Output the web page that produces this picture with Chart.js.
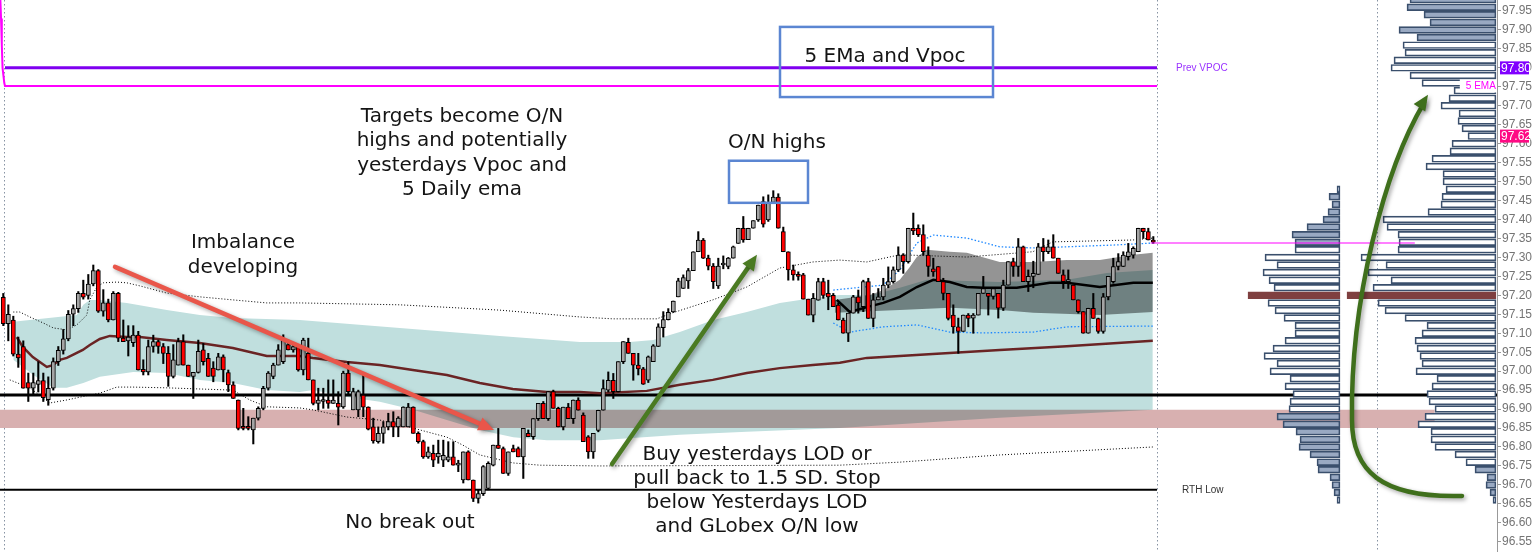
<!DOCTYPE html>
<html><head><meta charset="utf-8">
<script src="https://cdn.jsdelivr.net/npm/chart.js@4.4.1/dist/chart.umd.min.js"></script>
<style>html,body{margin:0;padding:0;background:#fff;overflow:hidden}#wrap{width:1532px;height:552px}</style>
</head><body><div id="wrap"><canvas id="c" width="1532" height="552"></canvas></div>
<script>
// ---------- DATA ----------
const OPEN = [97.195,97.125,97.135,97.045,97.065,96.97,96.955,96.965,96.975,96.925,
96.955,97.025,97.055,97.085,97.15,97.165,97.205,97.2,97.23,97.265,
97.158,97.18,97.135,97.205,97.087,97.08,97.075,97.095,97.005,96.998,
97.065,97.078,97.065,97.047,96.986,97.016,97.078,97.016,96.986,96.997,
97.056,97.034,97.008,97.003,97.038,96.996,96.964,96.924,96.853,96.853,
96.845,96.876,96.902,96.955,96.986,97.016,97.025,97.07,97.056,97.065,
97.003,97.047,96.977,96.915,96.92,96.924,96.915,96.915,96.906,96.995,
96.898,96.898,96.937,96.905,96.853,96.814,96.836,96.853,96.867,96.853,
96.853,96.853,96.905,96.836,96.814,96.774,96.783,96.774,96.765,96.765,
96.774,96.752,96.713,96.787,96.713,96.664,96.677,96.691,96.752,96.805,
96.796,96.73,96.796,96.796,96.774,96.836,96.827,96.875,96.915,96.875,
96.946,96.902,96.853,96.905,96.875,96.924,96.884,96.827,96.787,96.844,
96.897,96.95,96.976,96.946,97.025,97.076,97.047,97.016,97.006,96.976,
97.025,97.065,97.115,97.136,97.156,97.196,97.218,97.238,97.265,97.315,
97.346,97.298,97.277,97.225,97.28,97.276,97.298,97.337,97.377,97.347,
97.377,97.399,97.447,97.399,97.445,97.459,97.368,97.315,97.267,97.254,
97.254,97.19,97.148,97.187,97.236,97.205,97.2,97.174,97.135,97.1,
97.153,97.196,97.17,97.236,97.139,97.188,97.196,97.227,97.236,97.267,
97.306,97.289,97.377,97.377,97.36,97.306,97.27,97.276,97.236,97.205,
97.148,97.117,97.105,97.148,97.14,97.148,97.205,97.205,97.197,97.205,
97.166,97.227,97.289,97.276,97.328,97.236,97.25,97.255,97.328,97.315,
97.328,97.298,97.254,97.236,97.227,97.188,97.157,97.1,97.166,97.139,
97.105,97.196,97.236,97.276,97.276,97.302,97.306,97.315,97.377,97.368,
97.346];
const HIGH = [97.205,97.175,97.145,97.09,97.08,96.995,96.995,97.025,96.995,96.985,
97.035,97.065,97.11,97.16,97.175,97.21,97.24,97.255,97.28,97.268,
97.215,97.19,97.21,97.208,97.135,97.12,97.12,97.105,97.03,97.082,
97.095,97.082,97.073,97.065,97.07,97.087,97.096,97.016,96.997,97.082,
97.073,97.047,97.025,97.047,97.043,97.003,96.972,96.924,96.902,96.88,
96.876,96.906,96.96,96.999,97.021,97.07,97.096,97.082,97.07,97.07,
97.087,97.087,96.977,96.955,96.955,96.977,96.977,96.946,97.0,97.025,
96.955,96.95,96.99,96.906,96.876,96.853,96.867,96.889,96.893,96.88,
96.906,96.915,96.906,96.84,96.818,96.8,96.805,96.818,96.818,96.814,
96.814,96.765,96.787,96.79,96.713,96.687,96.751,96.761,96.805,96.849,
96.8,96.787,96.805,96.8,96.849,96.845,96.875,96.915,96.92,96.946,
96.95,96.905,96.905,96.915,96.924,96.93,96.89,96.83,96.836,96.897,
96.977,96.998,96.994,97.025,97.078,97.087,97.047,97.047,97.01,97.04,
97.07,97.125,97.157,97.165,97.185,97.245,97.254,97.271,97.315,97.368,
97.35,97.306,97.284,97.298,97.304,97.3,97.33,97.377,97.408,97.377,
97.397,97.438,97.46,97.465,97.476,97.468,97.38,97.315,97.28,97.262,
97.258,97.19,97.205,97.245,97.245,97.24,97.205,97.18,97.14,97.153,
97.2,97.214,97.24,97.245,97.205,97.218,97.245,97.275,97.275,97.328,
97.31,97.377,97.417,97.386,97.386,97.328,97.298,97.276,97.245,97.205,
97.175,97.14,97.148,97.152,97.152,97.205,97.25,97.205,97.22,97.205,
97.24,97.289,97.298,97.35,97.33,97.267,97.29,97.337,97.35,97.346,
97.36,97.298,97.267,97.267,97.227,97.188,97.157,97.166,97.205,97.14,
97.205,97.25,97.298,97.31,97.315,97.337,97.328,97.377,97.377,97.377,
97.355];
const LOW = [97.12,97.08,97.04,97.01,96.955,96.92,96.94,96.945,96.92,96.91,
96.95,97.015,97.045,97.08,97.12,97.155,97.19,97.19,97.225,97.155,
97.145,97.13,97.135,97.078,97.078,97.04,97.065,97.003,96.99,96.99,
97.05,97.047,97.02,96.96,96.982,97.016,97.016,96.986,96.928,96.995,
97.016,96.986,96.972,97.003,96.972,96.946,96.928,96.845,96.845,96.845,
96.808,96.871,96.898,96.95,96.98,97.016,97.02,97.056,97.05,97.0,
96.99,96.977,96.911,96.898,96.902,96.902,96.915,96.858,96.902,96.937,
96.898,96.88,96.88,96.845,96.81,96.81,96.81,96.845,96.827,96.827,
96.853,96.853,96.836,96.81,96.77,96.77,96.748,96.757,96.748,96.761,
96.752,96.735,96.705,96.713,96.656,96.652,96.672,96.687,96.75,96.796,
96.73,96.725,96.787,96.774,96.717,96.827,96.82,96.87,96.875,96.87,
96.902,96.853,96.845,96.875,96.862,96.897,96.814,96.77,96.77,96.84,
96.897,96.945,96.928,96.945,97.02,97.047,96.976,96.99,96.965,96.97,
97.025,97.065,97.09,97.135,97.155,97.196,97.218,97.218,97.265,97.315,
97.297,97.267,97.218,97.218,97.27,97.27,97.298,97.337,97.34,97.347,
97.377,97.395,97.38,97.395,97.443,97.377,97.315,97.24,97.24,97.24,
97.19,97.148,97.13,97.187,97.192,97.162,97.17,97.135,97.1,97.078,
97.153,97.153,97.157,97.139,97.117,97.188,97.188,97.22,97.232,97.263,
97.258,97.285,97.36,97.355,97.306,97.25,97.25,97.236,97.188,97.135,
97.1,97.047,97.105,97.117,97.1,97.148,97.205,97.148,97.19,97.14,
97.16,97.227,97.25,97.25,97.236,97.21,97.22,97.255,97.29,97.31,
97.298,97.258,97.218,97.218,97.188,97.153,97.1,97.1,97.139,97.1,
97.1,97.188,97.232,97.267,97.276,97.293,97.298,97.315,97.35,97.346,
97.337];
const CLOSE = [97.125,97.15,97.045,97.035,96.955,96.955,96.97,96.975,96.93,96.955,
97.025,97.055,97.085,97.15,97.165,97.205,97.195,97.23,97.265,97.158,
97.18,97.135,97.205,97.087,97.078,97.09,97.095,97.003,96.998,97.065,
97.078,97.065,97.047,96.986,97.03,97.078,97.016,96.986,96.997,97.052,
97.025,96.986,96.986,97.038,97.003,96.964,96.928,96.849,96.849,96.849,
96.876,96.902,96.955,96.995,97.016,97.056,97.082,97.056,97.065,97.003,
97.082,96.977,96.915,96.924,96.924,96.915,96.924,96.905,96.995,96.946,
96.946,96.946,96.905,96.847,96.816,96.836,96.853,96.867,96.853,96.876,
96.905,96.905,96.836,96.814,96.774,96.787,96.765,96.783,96.778,96.774,
96.752,96.757,96.787,96.713,96.664,96.677,96.748,96.757,96.805,96.796,
96.73,96.787,96.787,96.774,96.849,96.827,96.875,96.915,96.875,96.946,
96.902,96.853,96.905,96.875,96.924,96.897,96.814,96.787,96.836,96.897,
96.954,96.976,96.946,97.025,97.078,97.047,97.016,97.006,96.966,97.038,
97.067,97.117,97.136,97.155,97.185,97.238,97.247,97.265,97.315,97.346,
97.298,97.277,97.236,97.277,97.28,97.298,97.328,97.377,97.346,97.377,
97.397,97.438,97.388,97.445,97.459,97.377,97.315,97.267,97.254,97.25,
97.19,97.148,97.192,97.236,97.2,97.196,97.17,97.135,97.1,97.153,
97.196,97.18,97.236,97.139,97.188,97.196,97.227,97.236,97.267,97.306,
97.289,97.377,97.37,97.36,97.315,97.276,97.262,97.236,97.205,97.139,
97.117,97.105,97.148,97.139,97.148,97.205,97.218,97.197,97.218,97.166,
97.227,97.289,97.276,97.328,97.236,97.25,97.258,97.328,97.315,97.328,
97.298,97.258,97.236,97.236,97.188,97.157,97.1,97.166,97.139,97.105,
97.196,97.25,97.276,97.289,97.306,97.315,97.324,97.377,97.368,97.346,
97.34];

// indicator lines: [bar index, price]
const SLOW_MA = [[2.7,97.090],[3.9,97.064],[5.9,97.037],[7.3,97.024],[8.7,97.011],[9.9,97.016],[11.3,97.030],[12.7,97.035],[13.9,97.043],[15.9,97.056],[17.3,97.069],[19.3,97.085],[21.3,97.093],[24.7,97.090],[27.3,97.090],[32.7,97.082],[39.3,97.074],[45.9,97.061],[52.7,97.040],[59.3,97.040],[61.9,97.035],[68.7,97.024],[75.3,97.016],[81.9,97.003],[88.7,96.990],[95.3,96.969],[101.9,96.953],[108.7,96.945],[115.3,96.945],[119.3,96.942],[128.7,96.948],[135.3,96.964],[141.9,96.977],[148.7,96.995],[155.3,97.008],[161.9,97.016],[167.3,97.022],[172.7,97.035],[185.9,97.045],[199.3,97.056],[212.7,97.066],[229.9,97.080]];
const ENV_UP = [[2,97.156],[3.3,97.156],[5.3,97.143],[8,97.127],[10,97.114],[12.7,97.109],[14.7,97.122],[16.7,97.148],[17.3,97.188],[18.7,97.222],[20,97.233],[22.7,97.235],[24.7,97.233],[27.3,97.225],[32.7,97.206],[39.3,97.196],[45.9,97.188],[52.7,97.180],[59.3,97.180],[79.3,97.175],[99.3,97.161],[115.3,97.143],[121.9,97.138],[130.7,97.138],[133.9,97.154],[141.9,97.188],[148.7,97.222],[155.3,97.272],[161.9,97.288],[167.3,97.293],[172.7,97.288],[179.3,97.307],[192.7,97.301],[205.9,97.315],[209.9,97.341],[225.9,97.346],[229.9,97.351]];
const ENV_DN = [[1.3,96.977],[5.3,96.956],[9.3,96.916],[12.7,96.924],[17.3,96.937],[19.3,96.942],[22.7,96.958],[25.9,96.958],[32.7,96.956],[45.9,96.950],[49.3,96.924],[52.7,96.906],[59.3,96.903],[61.9,96.898],[68.7,96.879],[75.3,96.871],[81.9,96.850],[88.7,96.826],[91.9,96.805],[95.3,96.779],[101.9,96.758],[107.3,96.752],[119.3,96.750],[167.3,96.752],[179.3,96.760],[199.3,96.779],[229.9,96.800]];
const SD_UP = [[166,97.214],[176,97.227],[179.3,97.267],[182.7,97.338],[186,97.359],[192.7,97.351],[199.3,97.328],[206,97.325],[212.7,97.328],[222.7,97.333],[229.9,97.338]];
const SD_DN = [[166,97.127],[169.3,97.103],[176,97.117],[182.7,97.122],[189.3,97.103],[196,97.101],[206,97.103],[212.7,97.117],[229.9,97.119]];
const VWAP = [[166.7,97.188],[169.3,97.156],[172.7,97.169],[176,97.180],[179.3,97.196],[182.7,97.222],[186,97.241],[189.3,97.235],[192.7,97.222],[196,97.220],[202.7,97.220],[209.3,97.233],[212.7,97.233],[219.3,97.222],[226,97.233],[229.9,97.233]];
const BAND_TOP = [[2,97.130],[14.7,97.148],[16,97.175],[17.3,97.188],[19.3,97.188],[24.7,97.180],[32.7,97.161],[39.3,97.148],[45.9,97.140],[59.3,97.135],[79.3,97.114],[99.3,97.093],[115.3,97.077],[125.3,97.077],[130,97.082],[135.3,97.103],[142,97.135],[148.7,97.156],[155.3,97.180],[162,97.193],[167.3,97.201],[173.7,97.201],[179.3,97.220],[184.7,97.241],[199.3,97.235],[212.7,97.241],[220.7,97.259],[229.9,97.267]];
const BAND_BOT = [[2,97.030],[6,96.990],[10,96.956],[12.7,96.956],[16,96.969],[19.3,96.985],[26,96.998],[32.7,96.995],[39.3,96.977],[45.9,96.969],[52.7,96.950],[59.3,96.945],[62,96.950],[68.7,96.932],[75.3,96.919],[82,96.898],[88.7,96.871],[95.3,96.845],[102,96.826],[108.7,96.818],[119.3,96.818],[135.3,96.832],[148.7,96.840],[167.3,96.850],[199.3,96.877],[229.9,96.898]];
const VA_TOP = [[166.3,97.188],[173.3,97.201],[176,97.214],[179.3,97.241],[181.3,97.275],[182.7,97.301],[184.7,97.320],[189.3,97.315],[192.7,97.312],[199.3,97.288],[206,97.288],[212.7,97.293],[219.3,97.293],[226,97.307],[229.9,97.312]];
const VA_BOT = [[166.3,97.154],[179.3,97.161],[189.3,97.167],[199.3,97.161],[206,97.154],[219.3,97.148],[229.9,97.156]];
const EMA5 = [[-0.6,97.985],[-0.45,97.93],[-0.3,97.86],[-0.15,97.80],[0.2,97.76],[0.34,97.752],[230.74,97.752]];

// levels
const PREV_VPOC = 97.80, YEST_LOD = 96.937, RTH_LOW = 96.687, LAST_PRICE = 97.338;
const ZONE = [96.850, 96.898];

// volume profiles
const P1_PRICE = [97.48,97.46,97.44,97.42,97.40,97.38,97.36,97.34,97.32,97.30,97.28,97.26,97.24,97.22,97.20,97.18,97.16,97.14,97.12,97.10,97.08,97.06,97.04,97.02,97.00,96.98,96.96,96.94,96.92,96.90,96.88,96.86,96.84,96.82,96.80,96.78,96.76,96.74,96.72,96.70,96.68,96.66];
const P1_VOL = [3,11,8,12,17,33,48,45,45,75,63,77,71,66,92,72,65,56,45,45,55,67,76,63,70,50,55,47,50,51,63,57,44,40,41,30,23,22,10,8,6,3];
const P2_PRICE = [97.98,97.96,97.94,97.92,97.90,97.88,97.86,97.84,97.82,97.80,97.78,97.76,97.74,97.72,97.70,97.68,97.66,97.64,97.62,97.60,97.58,97.56,97.54,97.52,97.50,97.48,97.46,97.44,97.42,97.40,97.38,97.36,97.34,97.32,97.30,97.28,97.26,97.24,97.22,97.20,97.18,97.16,97.14,97.12,97.10,97.08,97.06,97.04,97.02,97.00,96.98,96.96,96.94,96.92,96.90,96.88,96.86,96.84,96.82,96.80,96.78,96.76,96.74,96.72,96.70,96.68,96.66];
const P2_VOL = [86,89,72,66,97,79,93,91,102,105,86,74,42,47,55,37,38,34,28,44,46,64,70,53,53,50,54,55,68,113,109,98,97,98,135,110,128,105,123,149,118,111,91,69,74,81,79,76,74,80,59,64,69,67,61,71,78,65,65,61,41,30,21,9,10,6,3];
const P1_VA = [96.89, 97.33], P2_VA = [96.75, 97.87];
const P1_POC = 97.20, P2_POC = 97.20;

const TICKS = [96.55,96.60,96.65,96.70,96.75,96.80,96.85,96.90,96.95,97.00,97.05,97.10,97.15,97.20,97.25,97.30,97.35,97.40,97.45,97.50,97.55,97.60,97.65,97.70,97.75,97.80,97.85,97.90,97.95];

// ---------- LAYOUT (bar-index units on the x scale) ----------
const X_MIN = -0.66, X_MAX = 298.74, MAIN_END = 230.74, P1_END = 274.74, ZONE_END = 286.3;
const SEPARATORS = [0.2, MAIN_END, P1_END];

const pts = a => a.map(p => ({x: p[0], y: p[1]}));
const line = (data, color, width, order, extra) => Object.assign({type: 'line', data, borderColor: color, borderWidth: width, pointRadius: 0, pointHitRadius: 0, tension: 0, fill: false, order}, extra || {});
const hline = (price, x0, x1, color, width, order, extra) => line([{x: x0, y: price}, {x: x1, y: price}], color, width, order, extra);
const NONE = 'rgba(0,0,0,0)';

const idx = OPEN.map((_, i) => i);
const profileStyle = (POC, VA) => ({
  backgroundColor: c => c.raw.y === POC ? '#7f4040' : (c.raw.y > VA[1] || c.raw.y < VA[0]) ? '#99a9c2' : '#fff',
  borderColor: c => c.raw.y === POC ? '#7f4040' : '#3a4f6c',
  borderWidth: 1.7, borderSkipped: false, barThickness: 6.8, grouped: false, order: 40
});
const datasets = [
  hline(ZONE[1], X_MIN, ZONE_END, NONE, 0, 100, {fill: '+1', backgroundColor: '#d8b0b0'}),
  hline(ZONE[0], X_MIN, ZONE_END, NONE, 0, 99),
  line(pts(BAND_TOP), NONE, 0, 98, {fill: '+1', backgroundColor: '#c0dfde', blend: 'multiply'}),
  line(pts(BAND_BOT), NONE, 0, 97),
  line(pts(VA_TOP), NONE, 0, 96, {fill: '+1', backgroundColor: '#949494', blend: 'multiply'}),
  line(pts(VA_BOT), NONE, 0, 95),
  hline(YEST_LOD, X_MIN, X_MAX, '#000', 3, 90),
  hline(RTH_LOW, X_MIN, MAIN_END, '#000', 2, 90),
  hline(PREV_VPOC, 0.34, MAIN_END, '#7f00f0', 3, 90),
  line(pts(EMA5), '#ff00ff', 2, 90),
  line(pts(SLOW_MA), '#6a2424', 2.5, 80),
  line(pts(ENV_UP), '#000', 1, 80, {borderDash: [1, 2]}),
  line(pts(ENV_DN), '#000', 1, 80, {borderDash: [1, 2]}),
  line(pts(SD_UP), '#1e88ff', 1.3, 80, {borderDash: [1.5, 2]}),
  line(pts(SD_DN), '#1e88ff', 1.3, 80, {borderDash: [1.5, 2]}),
  line(pts(VWAP), '#000', 2.5, 80),
  {type: 'bar', data: idx.map(i => ({x: i, y: [LOW[i], HIGH[i]]})), backgroundColor: '#000', borderWidth: 0, barThickness: 1.4, grouped: false, order: 60},
  {type: 'bar', data: idx.map(i => ({x: i, y: [OPEN[i], CLOSE[i]]})),
    backgroundColor: c => (c.raw && c.raw.y[1] < c.raw.y[0]) ? '#ff0000' : '#a4a4a4',
    borderColor: '#000', borderWidth: 1, borderSkipped: false, barThickness: 4.2, minBarLength: 2, grouped: false, order: 50},
  Object.assign({type: 'bar', indexAxis: 'y', xAxisID: 'xp1', yAxisID: 'y', data: P1_PRICE.map((p, i) => ({y: p, x: P1_VOL[i]}))}, profileStyle(P1_POC, P1_VA)),
  Object.assign({type: 'bar', indexAxis: 'y', xAxisID: 'xp2', yAxisID: 'y', data: P2_PRICE.map((p, i) => ({y: p, x: P2_VOL[i]}))}, profileStyle(P2_POC, P2_VA)),
  hline(LAST_PRICE, 229.5, 282.3, '#ff00ff', 1.2, 30)
];

// ---------- ANNOTATIONS (anchored in bar index / price) ----------
const NOTES = [
  {x: 176.34, y: 97.829, step: 0, lines: ['5 EMa and Vpoc']},
  {x: 91.74, y: 97.671, step: 24.4, lines: ['Targets become O/N', 'highs and potentially', 'yesterdays Vpoc and', '5 Daily ema']},
  {x: 154.74, y: 97.602, step: 0, lines: ['O/N highs']},
  {x: 47.94, y: 97.338, step: 25, lines: ['Imbalance', 'developing']},
  {x: 150.74, y: 96.779, step: 24, lines: ['Buy yesterdays LOD or', 'pull back to 1.5 SD. Stop', 'below Yesterdays LOD', 'and GLobex O/N low']},
  {x: 81.34, y: 96.600, step: 0, lines: ['No break out']}
];
const BOXES = [[155.34, 97.908, 197.94, 97.723], [145.14, 97.555, 160.94, 97.444]];
const ARROWS = [
  {from: [22.34, 97.275], to: [98.14, 96.845], color: '#e9564a'},
  {from: [121.74, 96.755], to: [150.74, 97.307], color: '#4a7a22'}
];
const CURVE = [[291.74, 96.671], [275.34, 96.665], [269.74, 96.739], [269.74, 96.871], [269.34, 97.188], [276.34, 97.557], [284.94, 97.729]];

function setBlend(chart, meta) {
  const ds = meta ? chart.data.datasets[meta.index] : null;
  chart.ctx.globalCompositeOperation = (ds && ds.blend) || 'source-over';
}
function arrowHead(ctx, x1, y1, ang, size) {
  ctx.beginPath();
  ctx.moveTo(x1, y1);
  ctx.lineTo(x1 - size * Math.cos(ang - 0.42), y1 - size * Math.sin(ang - 0.42));
  ctx.lineTo(x1 - size * Math.cos(ang + 0.42), y1 - size * Math.sin(ang + 0.42));
  ctx.closePath(); ctx.fill();
}
const overlay = {
  id: 'overlay',
  beforeDatasetsDraw(chart) {
    const {ctx, chartArea: a, scales: {x}} = chart;
    ctx.save();
    ctx.strokeStyle = '#8793a3'; ctx.lineWidth = 1; ctx.setLineDash([1.5, 2.5]);
    SEPARATORS.forEach(v => { const px = Math.round(x.getPixelForValue(v)) + 0.5; ctx.beginPath(); ctx.moveTo(px, a.top); ctx.lineTo(px, a.bottom); ctx.stroke(); });
    ctx.restore();
    chart.$seq = chart.getSortedVisibleDatasetMetas().slice().reverse();
    setBlend(chart, chart.$seq[0]);
  },
  afterDatasetDraw(chart, args) {
    const seq = chart.$seq || [];
    setBlend(chart, seq[seq.indexOf(args.meta) + 1]);
  },
  afterDatasetsDraw(chart) { chart.ctx.globalCompositeOperation = 'source-over'; },
  afterDraw(chart) {
    const {ctx, scales: {x, y}, chartArea: a} = chart;
    const X = v => x.getPixelForValue(v), Y = v => y.getPixelForValue(v);
    ctx.save();
    ctx.strokeStyle = '#5b86d2'; ctx.lineWidth = 2.5;
    BOXES.forEach(b => ctx.strokeRect(X(b[0]), Y(b[1]), X(b[2]) - X(b[0]), Y(b[3]) - Y(b[1])));
    ctx.shadowColor = 'rgba(0,0,0,0.35)'; ctx.shadowBlur = 4; ctx.shadowOffsetX = 2; ctx.shadowOffsetY = 2;
    ctx.lineCap = 'round';
    ARROWS.forEach(ar => {
      const x0 = X(ar.from[0]), y0 = Y(ar.from[1]), x1 = X(ar.to[0]), y1 = Y(ar.to[1]);
      const ang = Math.atan2(y1 - y0, x1 - x0);
      ctx.strokeStyle = ar.color; ctx.fillStyle = ar.color; ctx.lineWidth = 4.5;
      ctx.beginPath(); ctx.moveTo(x0, y0); ctx.lineTo(x1 - 12 * Math.cos(ang), y1 - 12 * Math.sin(ang)); ctx.stroke();
      arrowHead(ctx, x1, y1, ang, 17);
    });
    const c = CURVE.map(p => [X(p[0]), Y(p[1])]);
    ctx.strokeStyle = '#3f6f1c'; ctx.fillStyle = '#3f6f1c'; ctx.lineWidth = 4.5;
    ctx.beginPath(); ctx.moveTo(c[0][0], c[0][1]);
    ctx.bezierCurveTo(c[1][0], c[1][1], c[2][0], c[2][1], c[3][0], c[3][1]);
    ctx.bezierCurveTo(c[4][0], c[4][1], c[5][0], c[5][1] + 8, c[6][0] - 4, c[6][1] + 8);
    ctx.stroke();
    arrowHead(ctx, c[6][0], c[6][1], Math.atan2(c[6][1] - c[5][1], c[6][0] - c[5][0]), 17);
    ctx.shadowColor = 'rgba(0,0,0,0)'; ctx.shadowBlur = 0; ctx.shadowOffsetX = 0; ctx.shadowOffsetY = 0;
    ctx.fillStyle = '#141414'; ctx.font = '20px "DejaVu Sans", Verdana, sans-serif';
    ctx.textAlign = 'center'; ctx.textBaseline = 'middle';
    NOTES.forEach(n => n.lines.forEach((t, i) => ctx.fillText(t, X(n.x), Y(n.y) + i * n.step)));
    ctx.font = '10px "Liberation Sans", Arial, sans-serif'; ctx.textAlign = 'left';
    ctx.fillStyle = '#9a33ff'; ctx.fillText('Prev VPOC', X(234.54), Y(PREV_VPOC));
    ctx.fillStyle = '#333'; ctx.fillText('RTH Low', X(235.74), Y(RTH_LOW));
    ctx.fillStyle = '#fff'; ctx.fillRect(X(291.3), Y(97.77), a.right - X(291.3), Y(97.735) - Y(97.77));
    ctx.fillStyle = '#ff00ff'; ctx.fillText('5 EMA', X(292.5), Y(97.752));
    ctx.font = '12px "Liberation Sans", Arial, sans-serif';
    [[PREV_VPOC, '#8000ff'], [97.62, '#ff0a84']].forEach(([v, col]) => {
      const py = Y(v);
      ctx.fillStyle = col; ctx.fillRect(a.right + 3, py - 6.5, 29, 13);
      ctx.fillStyle = '#fff'; ctx.fillText(v.toFixed(2), a.right + 4, py + 0.5);
    });
    ctx.restore();
  }
};

new Chart(document.getElementById('c'), {
  type: 'line',
  data: {datasets},
  options: {
    responsive: false, animation: false, events: [],
    layout: {padding: 0},
    plugins: {legend: {display: false}, tooltip: {enabled: false}, title: {display: false}},
    scales: {
      x: {type: 'linear', min: X_MIN, max: X_MAX, display: false, offset: false, grid: {offset: false}},
      xp1: {type: 'linear', axis: 'x', reverse: true, min: -157, max: 1340, display: false, offset: false, beginAtZero: false},
      xp2: {type: 'linear', axis: 'x', reverse: true, min: -1, max: 1496, display: false, offset: false, beginAtZero: false},
      y: {type: 'linear', position: 'right', min: 96.523, max: 97.979, bounds: 'data', offset: false, beginAtZero: false,
        afterBuildTicks: s => { s.ticks = TICKS.map(v => ({value: v})); },
        afterFit: s => { s.width = 35; s.paddingTop = 0; s.paddingBottom = 0; },
        ticks: {autoSkip: false, padding: 1, color: '#747474', font: {size: 12, family: '"Liberation Sans", Arial, sans-serif'}, callback: v => Number(v).toFixed(2)},
        grid: {drawOnChartArea: false, tickLength: 4, color: '#999', offset: false},
        border: {display: true, color: '#999'}
      }
    }
  },
  plugins: [overlay]
});
</script></body></html>
